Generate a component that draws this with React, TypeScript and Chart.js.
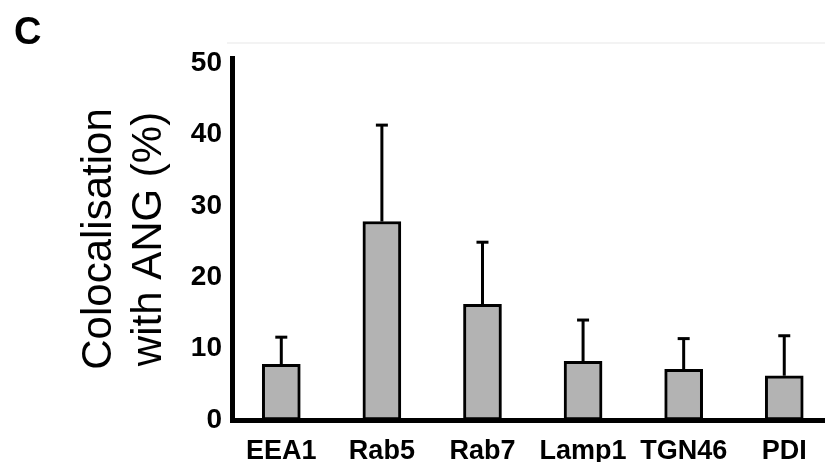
import React, { useEffect, useRef } from 'react';
import { Chart, registerables } from 'chart.js';
Chart.register(...registerables);

const categories = ['EEA1', 'Rab5', 'Rab7', 'Lamp1', 'TGN46', 'PDI'];
const means = [7.8, 27.8, 16.2, 8.2, 7.1, 6.2];
const errors = [3.8, 13.5, 8.7, 5.8, 4.3, 5.6];
const yTicks = [0, 10, 20, 30, 40, 50];
const yTitle = ['Colocalisation', 'with ANG (%)'];
const panelLabel = 'C';

const FONT = "Arial, 'Liberation Sans', Helvetica, sans-serif";

const extrasPlugin = {
  id: 'extras',
  afterDatasetsDraw(chart: any) {
    const { ctx, scales } = chart;
    const x = scales.x;
    const y = scales.y;
    ctx.save();
    ctx.strokeStyle = '#000';
    ctx.lineWidth = 3;
    ctx.lineCap = 'butt';
    means.forEach((m, i) => {
      const px = x.getPixelForValue(i);
      const top = y.getPixelForValue(m);
      const end = y.getPixelForValue(m + errors[i]);
      ctx.beginPath();
      ctx.moveTo(px, top);
      ctx.lineTo(px, end);
      ctx.stroke();
      ctx.beginPath();
      ctx.moveTo(px - 6, end);
      ctx.lineTo(px + 6, end);
      ctx.stroke();
    });
    ctx.restore();
  },
  afterDraw(chart: any) {
    const { ctx, scales, chartArea } = chart;
    ctx.save();
    const yy = scales.y.getPixelForValue(52.8);
    ctx.strokeStyle = '#f3f3f3';
    ctx.lineWidth = 2;
    ctx.beginPath();
    ctx.moveTo(chartArea.left - 5, yy);
    ctx.lineTo(chart.width, yy);
    ctx.stroke();
    ctx.fillStyle = '#000';
    ctx.font = `bold 38px ${FONT}`;
    ctx.textBaseline = 'alphabetic';
    ctx.textAlign = 'left';
    ctx.fillText(panelLabel, 14, 44);
    ctx.restore();
  },
};

export default function App() {
  const ref = useRef<HTMLCanvasElement>(null);
  useEffect(() => {
    document.body.style.margin = '0';
    const canvas = ref.current!;
    const chart = new Chart(canvas, {
      type: 'bar',
      data: {
        datasets: [
          {
            data: means.map((v, i) => ({ x: i, y: v })),
            backgroundColor: '#b3b3b3',
            borderColor: '#000',
            borderWidth: 3,
            borderSkipped: false,
            barThickness: 38,
          } as any,
        ],
      },
      options: {
        responsive: false,
        animation: false,
        layout: { padding: { left: 74, top: 58, right: 0, bottom: 0 } },
        plugins: { legend: { display: false }, tooltip: { enabled: false } },
        scales: {
          x: {
            type: 'linear',
            min: -0.49,
            max: 5.405,
            offset: false,
            grid: { display: false, drawTicks: false },
            border: { display: true, width: 5, color: '#000' },
            afterBuildTicks: (s: any) => {
              s.ticks = categories.map((_, i) => ({ value: i }));
            },
            afterFit: (s: any) => {
              s.height = 42;
            },
            ticks: {
              autoSkip: false,
              maxRotation: 0,
              padding: 15,
              color: '#000',
              font: { family: FONT, size: 27, weight: 'bold' },
              callback: (v: any) => categories[Math.round(v)] ?? '',
            },
          },
          y: {
            min: 0,
            max: 50.7,
            grid: { display: false, drawTicks: false },
            border: { display: true, width: 5, color: '#000' },
            afterBuildTicks: (s: any) => {
              s.ticks = yTicks.map((v) => ({ value: v }));
            },
            afterFit: (s: any) => {
              s.width = 158;
            },
            ticks: {
              padding: 10,
              color: '#000',
              font: { family: FONT, size: 28, weight: 'bold' },
            },
            title: {
              display: true,
              text: yTitle,
              color: '#000',
              font: { family: FONT, size: 42, weight: 'normal', lineHeight: 1.2 },
              padding: { top: 0, bottom: 0 },
            },
          },
        },
      } as any,
      plugins: [extrasPlugin],
    });
    return () => chart.destroy();
  }, []);
  return (
    <div style={{ width: 825, height: 462 }}>
      <canvas ref={ref} width={825} height={462} style={{ display: 'block' }} />
    </div>
  );
}
